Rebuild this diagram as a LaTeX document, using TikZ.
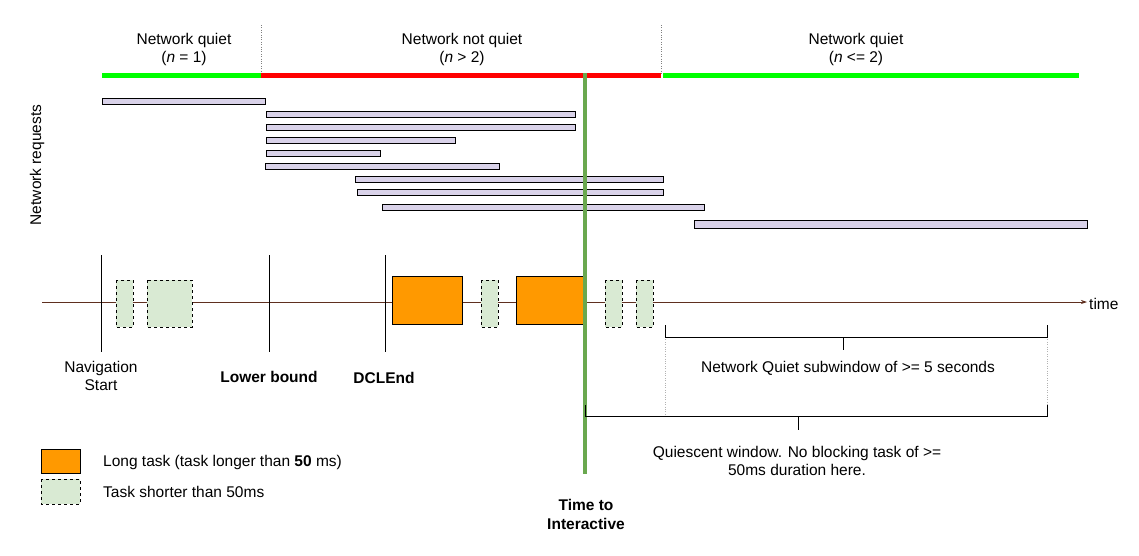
\documentclass[tikz,border=0pt]{standalone}
\usepackage{fontspec}
\setmainfont{Liberation Sans}
\usetikzlibrary{arrows.meta}
\definecolor{qgreen}{HTML}{00FF00}
\definecolor{lav}{HTML}{D9D2E9}
\definecolor{ltgreen}{HTML}{D9EAD3}
\definecolor{orng}{HTML}{FF9900}
\definecolor{tti}{HTML}{6AA84F}
\definecolor{axis}{HTML}{5F2F1F}
\begin{document}
\begin{tikzpicture}[x=1pt,y=-1pt,
  txt/.style={font=\fontsize{15.5}{18}\selectfont,align=center,inner sep=0},
  btxt/.style={txt,font=\fontsize{15.5}{19}\selectfont\bfseries},
  req/.style={draw=black,fill=lav,line width=0.8pt},
  short/.style={draw=black,fill=ltgreen,dashed,line width=0.6pt},
  long/.style={draw=black,fill=orng,line width=0.6pt},
  tick/.style={line width=0.8pt},
  br/.style={line width=0.9pt}]
\useasboundingbox (0,0) rectangle (1139,555);
% top status bars
\draw[dotted,gray] (261,25) -- (261,75) (661,25) -- (661,75);
\draw[qgreen,line width=5pt] (102,75) -- (261,75);
\draw[red,line width=5pt] (261,75) -- (661,75);
\draw[qgreen,line width=5pt] (663,75) -- (1079,75);
\node[txt] (q1) at (184,40) {Network quiet};
\node[txt] (q1n) at (184,58) {(\textit{n} = 1)};
\node[txt] (nq) at (462,40) {Network not quiet};
\node[txt] (nqn) at (462,58) {(\textit{n} > 2)};
\node[txt] (q2) at (856,40) {Network quiet};
\node[txt] (q2n) at (856,58) {(\textit{n} <= 2)};
% requests
\foreach \a/\b/\y in {102/265/101,266/575/114,266/575/127,266/455/140,266/380/153,265/499/166,355/663/179,357/663/192,382/704/207}
  \draw[req] (\a,\y-3) rectangle (\b,\y+3);
\draw[req] (694,220) rectangle (1087,228);
\node[txt,rotate=90] (nr) at (37,165) {Network requests};
% axis
\draw[axis,line width=0.7pt,-{Stealth[length=6pt,width=4pt]}] (42,302) -- (1087,302);
\node[txt,anchor=west] (time) at (1089,304) {time};
\foreach \x in {101,269,385} \draw[tick] (\x,255) -- (\x,352);
\foreach \a/\b in {116/133,147/192,481/498,605/622,636/653}
  \draw[short] (\a,280) rectangle (\b,327);
\draw[long] (392,276) rectangle (462,324);
\draw[long] (516,276) rectangle (585,324);
% TTI line
\draw[tti,line width=3.5pt] (585,73) -- (585,474);
\node[txt] (nav) at (101,376) {Navigation\\Start};
\node[btxt] (lb) at (269,377) {Lower bound};
\node[btxt] (dcl) at (384,378) {DCLEnd};
\node[btxt] (ttil) at (586,514) {Time to\\Interactive};
% brackets
\draw[dotted,gray!60] (665,337) -- (665,416) (1047,337) -- (1047,416);
\draw[br] (665,325) -- (665,337) -- (1047,337) -- (1047,325) (843,337) -- (843,350);
\node[txt] (nqs) at (848,368) {Network Quiet subwindow of >= 5 seconds};
\draw[br] (585,405) -- (585,416) -- (1047,416) -- (1047,405) (798,416) -- (798,430);
\node[txt] (qw) at (797,461) {Quiescent window. No blocking task of >=\\50ms duration here.};
% legend
\draw[long] (41,449) rectangle (80,473);
\node[txt,anchor=west] (ll) at (103,462) {Long task (task longer than \textbf{50} ms)};
\draw[short] (41,479) rectangle (80,504);
\node[txt,anchor=west] (ls) at (103,492) {Task shorter than 50ms};
\end{tikzpicture}
\end{document}
